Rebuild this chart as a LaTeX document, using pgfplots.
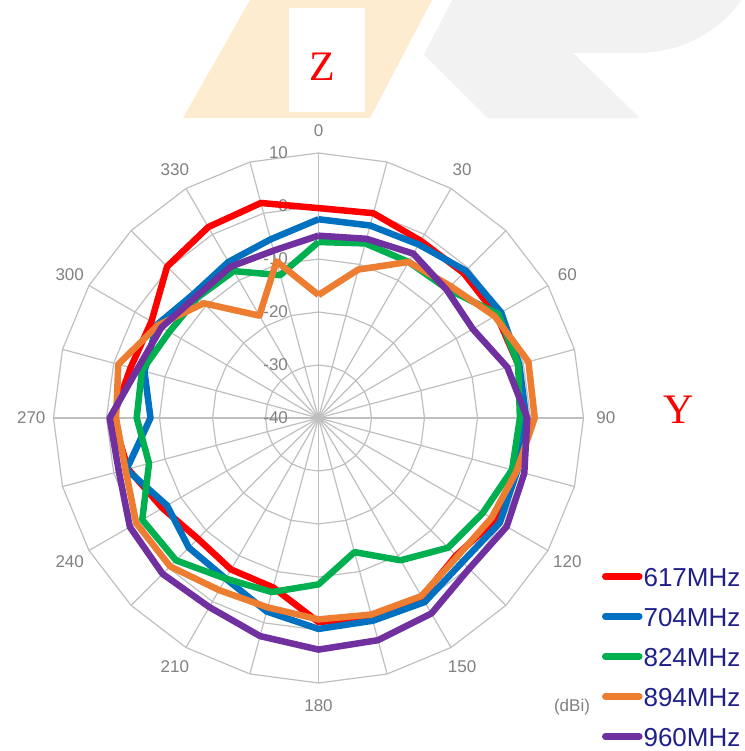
\documentclass[border=0pt]{standalone}
\usepackage{fontspec}
\setmainfont{Liberation Sans}
\newfontfamily\serifZ{Liberation Serif}
\usepackage{pgfplots}
\pgfplotsset{compat=1.18}
\usepackage{pgfplotstable}

\definecolor{c617}{RGB}{255,0,0}
\definecolor{c704}{RGB}{0,112,192}
\definecolor{c824}{RGB}{0,176,80}
\definecolor{c894}{RGB}{237,125,49}
\definecolor{c960}{RGB}{112,48,160}
\definecolor{gridc}{RGB}{191,191,191}
\definecolor{labc}{RGB}{128,128,128}
\definecolor{navy}{RGB}{32,32,140}
\definecolor{peach}{RGB}{254,236,208}
\definecolor{wm}{RGB}{242,242,242}

\pgfplotstableread{
a    r617  r704  r824  r894  r960
0    -0.4  -2.5  -6.8  -16.8 -5.6
15    0.0  -2.4  -5.9  -11.0 -5.0
30   -1.4  -2.2  -6.0  -6.0  -4.2
45   -1.3  -0.7  -5.6  -4.8  -5.8
60   -1.2  -0.2  -0.8  -1.6  -6.4
75   -1.0  -0.8  -1.0   1.0  -3.1
90   -1.0  -0.8  -2.0   0.8  -0.6
105  -1.3  -1.2  -2.2  -1.3   0.2
120  -1.5  -0.5  -4.2  -2.3   1.0
135  -3.3  -1.6  -5.4  -3.0   0.2
150  -1.0   0.1  -9.0  -1.2   2.6
165  -1.0  -0.4 -13.8  -1.6   3.4
180  -1.5  -0.2  -8.6  -2.0   3.7
195  -6.9  -2.2  -6.0  -3.0   2.6
210  -7.0  -5.0  -5.0  -2.5   1.2
225  -7.8  -5.4  -2.0  -0.4   1.6
240  -6.0  -7.0  -1.6  -0.3   1.1
255  -2.8  -2.5  -6.9  -2.3  -1.0
270  -1.2  -8.3  -5.7  -1.8  -0.6
285  -3.3  -6.0  -5.5  -0.9  -4.6
300  -3.6  -4.8  -7.5  -5.0  -5.8
315   0.4  -6.8  -7.8  -9.4  -7.5
330   1.6  -6.0  -8.0 -17.7  -7.0
345   2.0  -5.1 -12.1  -9.4  -7.3
360  -0.4  -2.5  -6.8  -16.8 -5.6
}\gain

% pixel -> axis units (centre 318.5,418; 5.3 px per dB)
\newcommand\PX[2]{(axis cs:{(#1-318.5)/5.3},{(418-#2)/5.3})}

\begin{document}
\begin{tikzpicture}
\begin{axis}[
  width=745pt, height=751pt, scale only axis,
  xmin=-60.0943, xmax=80.4717, ymin=-62.8302, ymax=78.8679,
  hide axis, clip=false,
  legend style={at={(axis description cs:0.8081,0.2450)}, anchor=north west,
    draw=none, fill=none, inner sep=0pt, outer sep=0pt,
    font=\fontsize{26}{26}\selectfont, text=navy,
    row sep=21pt, column sep=1pt,
    nodes={inner sep=0pt, text height=19pt, text depth=0pt}},
  legend cell align=left,
  legend image code/.code={\draw[#1, line cap=round] (0pt,0pt) -- (34pt,0pt);},
]
% watermark
\fill[peach] \PX{250}{0} -- \PX{432}{0} -- \PX{370}{118} -- \PX{183}{118} -- cycle;
\fill[wm] \PX{452}{0} -- \PX{742}{0} .. controls \PX{715}{35} and \PX{680}{53} .. \PX{635}{53}
   -- \PX{573}{53} -- \PX{640}{118} -- \PX{488}{118} -- \PX{424}{55} -- cycle;
\fill[white] \PX{289}{8} rectangle \PX{365}{112};
\node[text=red, font=\serifZ\fontsize{42}{42}\selectfont] at \PX{322}{67} {Z};
\node[text=red, font=\serifZ\fontsize{42}{42}\selectfont] at \PX{679}{410} {Y};
% grid
\pgfplotsinvokeforeach{10,20,30,40,50}{
  \draw[gridc, line width=1.2pt] (axis cs:0,#1) \foreach \t in {15,30,...,345} { -- (axis cs:{#1*sin(\t)},{#1*cos(\t)}) } -- cycle;
}
\pgfplotsinvokeforeach{0,15,...,345}{
  \draw[gridc, line width=1.2pt] (axis cs:0,0) -- (axis cs:{50*sin(#1)},{50*cos(#1)});
}
\pgfplotsinvokeforeach{0,30,...,330}{
  \node[text=labc, font=\fontsize{17}{17}\selectfont] at (axis cs:{54.2*sin(#1)},{54.2*cos(#1)}) {#1};
}
\node[text=labc, anchor=east, font=\fontsize{17}{17}\selectfont] at (axis cs:-5.1,50) {10};
\node[text=labc, anchor=east, font=\fontsize{17}{17}\selectfont] at (axis cs:-5.1,40) {0};
\node[text=labc, anchor=east, font=\fontsize{17}{17}\selectfont] at (axis cs:-5.1,30) {-10};
\node[text=labc, anchor=east, font=\fontsize{17}{17}\selectfont] at (axis cs:-5.1,20) {-20};
\node[text=labc, anchor=east, font=\fontsize{17}{17}\selectfont] at (axis cs:-5.1,10) {-30};
\node[text=labc, anchor=east, font=\fontsize{17}{17}\selectfont] at (axis cs:-5.1,0) {-40};
\node[text=labc, font=\fontsize{17}{17}\selectfont] at \PX{572}{707} {(dBi)};
% data
\addplot[c617, line width=6.5pt, line join=round] table[x expr={(\thisrow{r617}+40)*sin(\thisrow{a})}, y expr={(\thisrow{r617}+40)*cos(\thisrow{a})}]{\gain};
\addlegendentry{617MHz}
\addplot[c704, line width=6.5pt, line join=round] table[x expr={(\thisrow{r704}+40)*sin(\thisrow{a})}, y expr={(\thisrow{r704}+40)*cos(\thisrow{a})}]{\gain};
\addlegendentry{704MHz}
\addplot[c824, line width=6.5pt, line join=round] table[x expr={(\thisrow{r824}+40)*sin(\thisrow{a})}, y expr={(\thisrow{r824}+40)*cos(\thisrow{a})}]{\gain};
\addlegendentry{824MHz}
\addplot[c894, line width=6.5pt, line join=round] table[x expr={(\thisrow{r894}+40)*sin(\thisrow{a})}, y expr={(\thisrow{r894}+40)*cos(\thisrow{a})}]{\gain};
\addlegendentry{894MHz}
\addplot[c960, line width=6.5pt, line join=round] table[x expr={(\thisrow{r960}+40)*sin(\thisrow{a})}, y expr={(\thisrow{r960}+40)*cos(\thisrow{a})}]{\gain};
\addlegendentry{960MHz}
\end{axis}
\pgfresetboundingbox
\path (current axis.south west) rectangle (current axis.north east);
\end{tikzpicture}
\end{document}
